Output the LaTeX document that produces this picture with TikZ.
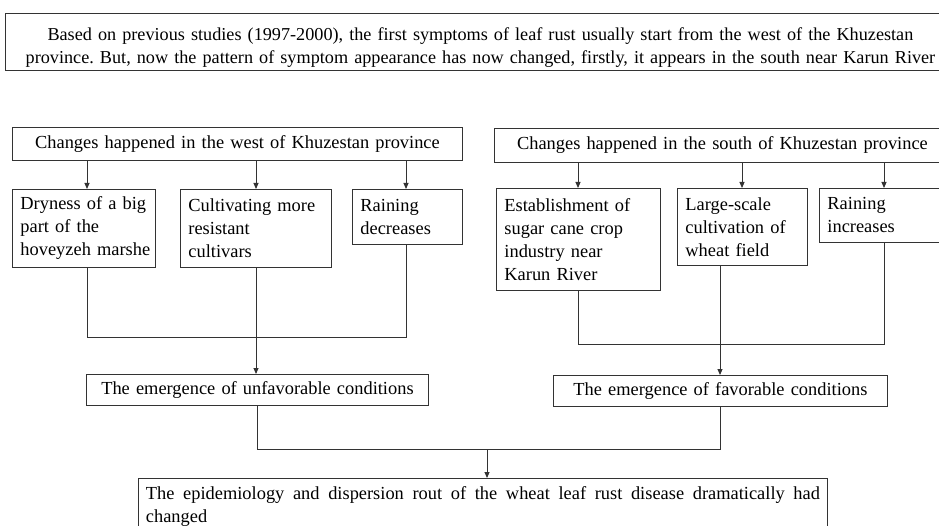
\documentclass[tikz,border=0pt]{standalone}
\usepackage{fontspec}
\setmainfont{Liberation Serif}
\usetikzlibrary{arrows.meta}
\frenchspacing
\begin{document}
\begin{tikzpicture}[x=1pt,y=-1pt,
  ln/.style={draw=black!80, line width=0.9pt},
  arr/.style={ln, -{Triangle[length=6pt,width=5pt]}},
  box/.style={draw=black!80, line width=0.9pt, anchor=north west, inner xsep=8pt, inner ysep=0pt,
    align=left, font=\fontsize{18.4}{23}\selectfont},
  cbox/.style={box, align=center, inner xsep=0pt}]
\useasboundingbox (0,0) rectangle (939,526);
\clip (0,0) rectangle (939,526);
% top text box
\node[cbox, text width=950pt, minimum height=57pt, font=\fontsize{18.2}{23}\selectfont] (top) at (5,13)
  {\rule{0pt}{24.5pt}Based on previous studies (1997-2000), the first symptoms of leaf rust usually start from the west of the Khuzestan\\
   province. But, now the pattern of symptom appearance has now changed, firstly, it appears in the south near Karun River};
% headers
\node[cbox, text width=450pt, minimum height=33pt] (whead) at (12,127) {Changes happened in the west of Khuzestan province};
\node[cbox, text width=456pt, minimum height=34pt] (shead) at (494,128) {Changes happened in the south of Khuzestan province};
% west boxes
\node[box, text width=127pt, minimum height=78pt] (dry) at (12,189) {Dryness~of~a~big\\part~of~the\\hoveyzeh~marshe};
\node[box, text width=135pt, minimum height=78pt] (cult) at (180,189) {Cultivating~more\\resistant\\cultivars};
\node[box, text width=94pt, minimum height=55pt] (raindec) at (352,189) {Raining\\decreases};
% south boxes
\node[box, text width=148pt, minimum height=102pt] (est) at (496,188) {Establishment~of\\sugar~cane~crop\\industry~near\\Karun~River};
\node[box, text width=114pt, minimum height=77pt] (large) at (677,188) {Large-scale\\cultivation~of\\wheat~field};
\node[box, text width=124pt, minimum height=54pt] (rainin) at (819,188) {Raining\\increases};
% conditions
\node[cbox, text width=342pt, minimum height=31pt] (unfav) at (86,374) {The emergence of unfavorable conditions};
\node[cbox, text width=334pt, minimum height=31pt] (fav) at (553,375) {The emergence of favorable conditions};
% final
\node[box, align=justify, text width=674pt, inner xsep=7.5pt, inner ysep=8pt] (final) at (138,478)
  {The epidemiology and dispersion rout of the wheat leaf rust disease dramatically had\linebreak changed};
% x positions of connectors
\coordinate (c87) at (87,0);
\coordinate (c256) at (256,0);
\coordinate (c257) at (257,0);
\coordinate (c406) at (406,0);
\coordinate (c487) at (487,0);
\coordinate (c578) at (578,0);
\coordinate (c720) at (720,0);
\coordinate (c742) at (742,0);
\coordinate (c884) at (884,0);
\coordinate (wj) at (0,337);
\coordinate (sj) at (0,344);
\coordinate (bj) at (0,449);
% header arrows
\draw[arr] (whead.south -| c87) -- (dry.north -| c87);
\draw[arr] (whead.south -| c256) -- (cult.north -| c256);
\draw[arr] (whead.south -| c406) -- (raindec.north -| c406);
\draw[arr] (shead.south -| c578) -- (est.north -| c578);
\draw[arr] (shead.south -| c742) -- (large.north -| c742);
\draw[arr] (shead.south -| c884) -- (rainin.north -| c884);
% west merge
\draw[ln] (dry.south -| c87) |- (wj -| c406) -- (raindec.south -| c406);
\draw[arr] (cult.south -| c256) -- (unfav.north -| c256);
% south merge
\draw[ln] (est.south -| c578) |- (sj -| c884) -- (rainin.south -| c884);
\draw[arr] (large.south -| c720) -- (fav.north -| c720);
% final merge
\draw[ln] (unfav.south -| c257) |- (bj -| c720) -- (fav.south -| c720);
\draw[arr] (bj -| c487) -- (final.north -| c487);
\end{tikzpicture}
\end{document}
